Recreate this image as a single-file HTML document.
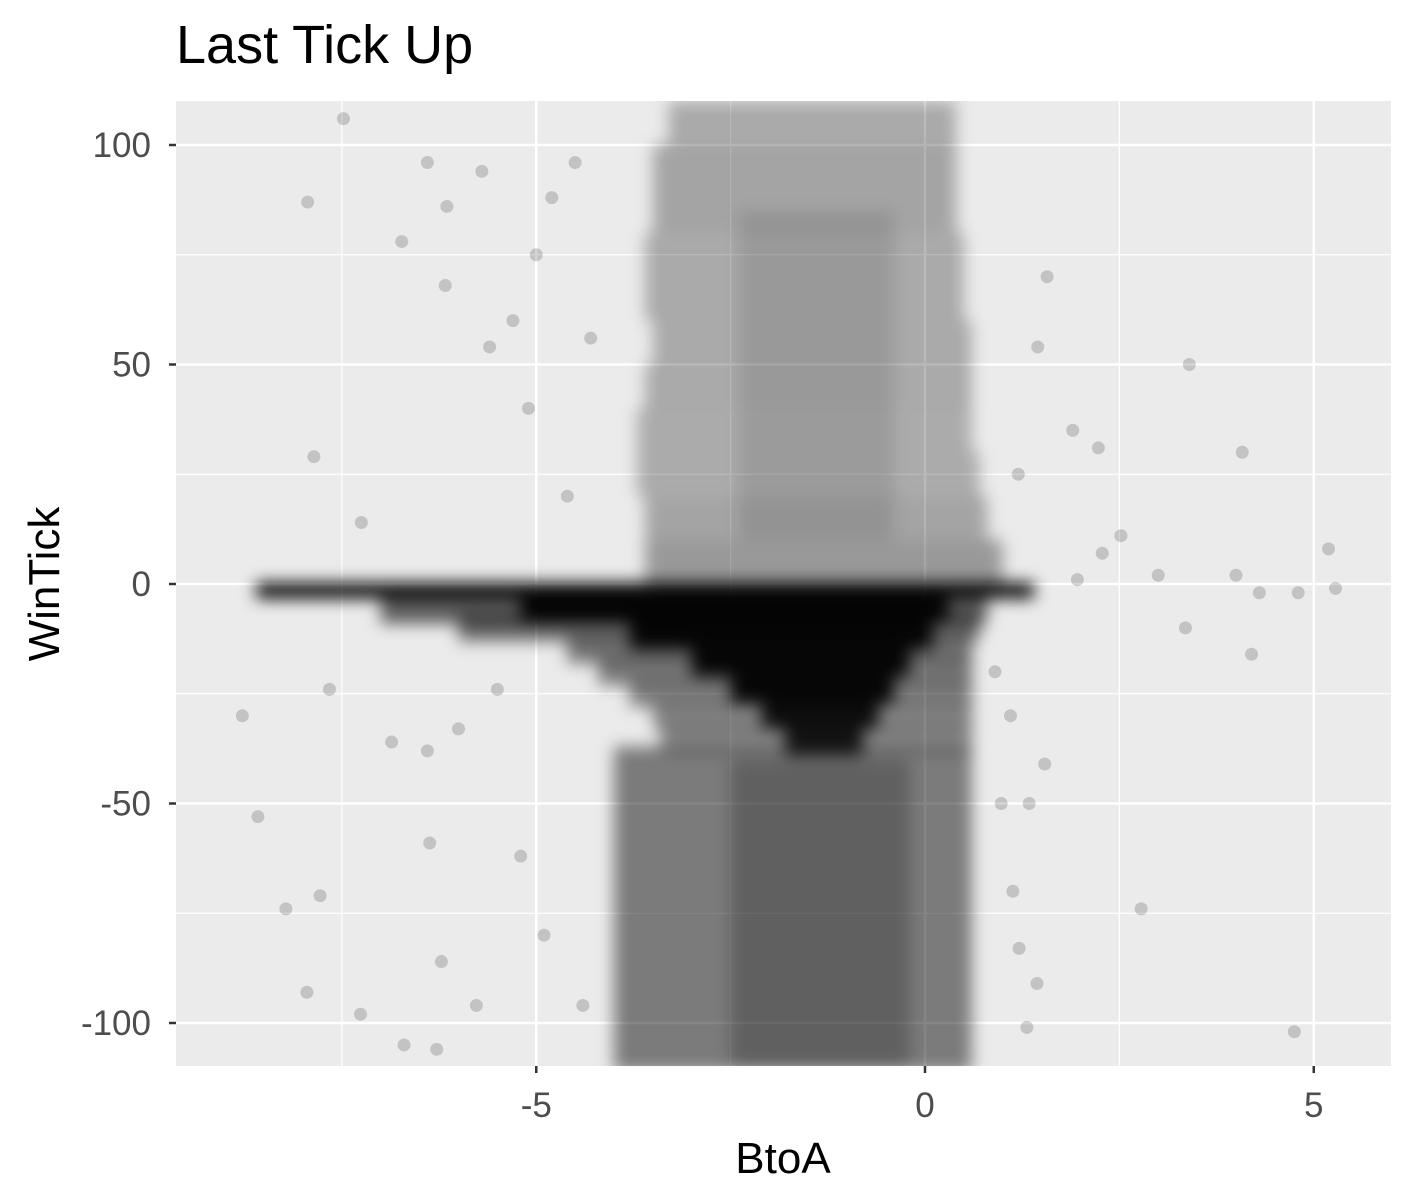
<!DOCTYPE html>
<html><head><meta charset="utf-8"><style>
body{margin:0;background:#fff;}
svg{display:block;font-family:"Liberation Sans",Arial,sans-serif;}
</style></head><body>
<svg id="chart" width="1415" height="1196">
<defs>
<clipPath id="pc"><rect x="176" y="101" width="1215" height="965"/></clipPath>
<filter id="bl" x="-20%" y="-50%" width="140%" height="200%"><feGaussianBlur stdDeviation="8"/></filter>
</defs>
<text x="176" y="63" font-size="54" fill="#000">Last Tick Up</text>
<rect x="176" y="101" width="1215" height="965" fill="#EBEBEB"/>
<g id="grid"></g>
<g id="density" clip-path="url(#pc)" filter="url(#bl)"></g>
<g id="points" clip-path="url(#pc)"></g>
<g id="axes"></g>
<text x="783" y="1173" font-size="44" text-anchor="middle" fill="#000">BtoA</text>
<text transform="translate(59,584) rotate(-90)" font-size="44" text-anchor="middle" fill="#000">WinTick</text>
</svg>
<script>
const xTicks=[-5,0,5];
const xMinor=[-7.5,-2.5,2.5];
const yTicks=[100,50,0,-50,-100];
const yMinor=[75,25,-25,-75];
// density bands: y center, half-height, x low, x high, alpha
const bandY=[105,95,85,75,65,55,45,35,25,15,5, 47.5, -1.5,-6,-10,-15,-20,-25,-30,-35, -6,-12,-18,-24,-30,-36, -74,-75];
const bandH=[5,5,5,5,5,5,5,5,5,5,5, 37.5, 1.8,3,3,3,3,3,3,3, 3,3,3,3,3,3, 37,35];
const bandLo=[-3.3,-3.5,-3.5,-3.6,-3.6,-3.5,-3.6,-3.7,-3.7,-3.6,-3.6, -2.4, -8.6,-7,-6,-4.6,-4.2,-3.8,-3.5,-3.4, -5.2,-3.8,-3.0,-2.5,-2.1,-1.8, -4.0,-2.5];
const bandHi=[0.4,0.4,0.4,0.5,0.5,0.6,0.6,0.6,0.7,0.8,1.0, -0.4, 1.4,0.8,0.7,0.6,0.6,0.6,0.6,0.6, 0.3,0.1,-0.2,-0.4,-0.6,-0.8, 0.6,-0.2];
const bandA=[0.28,0.3,0.3,0.28,0.28,0.28,0.28,0.27,0.27,0.3,0.35, 0.1, 0.97,0.6,0.55,0.5,0.48,0.45,0.42,0.42, 0.95,0.95,0.95,0.95,0.9,0.85, 0.48,0.22];
// outlier points
const ptX=[-8.78,-8.58,-7.94,-7.48,-7.86,-6.4,-6.73,-6.15,-5.7,3.4,4.08,4.2,4.75,5.19,2.78,2.52,3.35,2.23,1.9,1.45,1.57,-7.95,-7.26,-8.22,-7.78,-6.28,-7.66,-7.25,-6.17,-5.6,-5.3,-5,0.98,1.34,1.54,1.13,1.21,1.44,1.31,-6.37,-6.22,-5.77,-6.7,-6.86,-6.4,-6,-5.5,4.3,4.8,5.28,4,3,2.28,1.96,-4.5,-4.8,-5.1,-4.3,-4.6,-5.2,-4.9,-4.4,1.2,0.9,1.1];
const ptY=[-30,-53,87,106,29,96,78,86,94,50,30,-16,-102,8,-74,11,-10,31,35,54,70,-93,-98,-74,-71,-106,-24,14,68,54,60,75,-50,-50,-41,-70,-83,-91,-101,-59,-86,-96,-105,-36,-38,-33,-24,-2,-2,-1,2,2,7,1,96,88,40,56,20,-62,-80,-96,25,-20,-30];
const X=v=>925+v*77.75, Y=v=>584-v*4.39;
const NS='http://www.w3.org/2000/svg';
function mk(t,a,p){const e=document.createElementNS(NS,t);for(const k in a)e.setAttribute(k,a[k]);p.appendChild(e);return e;}
const g=document.getElementById('grid');
xMinor.forEach(v=>{const l=mk('line',{x1:X(v),x2:X(v),y1:101,y2:1066,stroke:'#fff','stroke-width':1.2},g);

});
yMinor.forEach(v=>{const l=mk('line',{x1:176,x2:1391,y1:Y(v),y2:Y(v),stroke:'#fff','stroke-width':1.2},g);

});
xTicks.forEach(v=>{const l=mk('line',{x1:X(v),x2:X(v),y1:101,y2:1066,stroke:'#fff','stroke-width':2.5},g);

});
yTicks.forEach(v=>{const l=mk('line',{x1:176,x2:1391,y1:Y(v),y2:Y(v),stroke:'#fff','stroke-width':2.5},g);

});
const d=document.getElementById('density');
bandY.forEach((y,i)=>{const r=mk('rect',{x:X(bandLo[i]),width:X(bandHi[i])-X(bandLo[i]),y:Y(y+bandH[i]),height:bandH[i]*2*4.39,fill:'#000','fill-opacity':bandA[i]},d);

});
const p=document.getElementById('points');
ptX.forEach((x,i)=>{const c=mk('circle',{cx:X(x),cy:Y(ptY[i]),r:6.5,fill:'#000','fill-opacity':0.17},p);

});
const a=document.getElementById('axes');
xTicks.forEach(v=>{const l=mk('line',{x1:X(v),x2:X(v),y1:1066,y2:1073,stroke:'#333','stroke-width':2.5},a);


const t=mk('text',{x:X(v),y:1117,'font-size':35,'text-anchor':'middle',fill:'#4D4D4D'},a);t.textContent=v;

});
yTicks.forEach(v=>{const l=mk('line',{x1:169,x2:176,y1:Y(v),y2:Y(v),stroke:'#333','stroke-width':2.5},a);


const t=mk('text',{x:151,y:Y(v)+12,'font-size':35,'text-anchor':'end',fill:'#4D4D4D'},a);t.textContent=v;

});
</script>
</body></html>
